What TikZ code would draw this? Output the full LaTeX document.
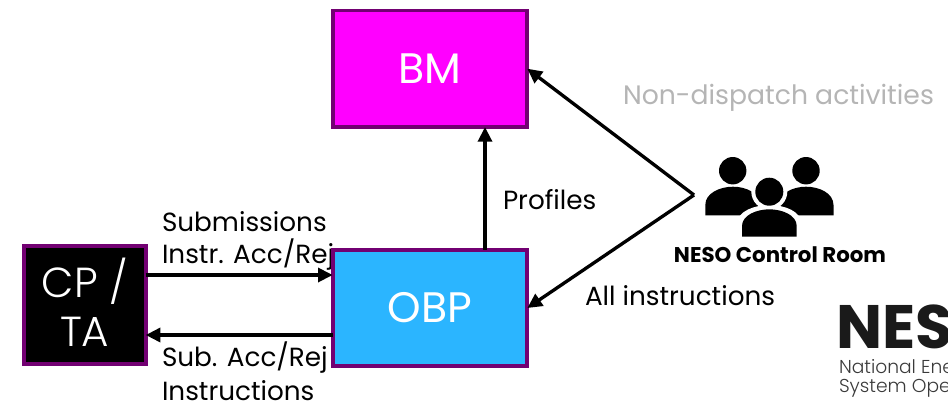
\documentclass[tikz,border=0pt]{standalone}
\usepackage{fontspec}
\setmainfont{Poppins}
\newfontfamily\lightf{Poppins Light}
\usetikzlibrary{arrows.meta}
\definecolor{edge}{HTML}{720072}
\definecolor{bmfill}{HTML}{FF00FF}
\definecolor{obpfill}{HTML}{2BB5FF}
\definecolor{muted}{HTML}{B5B5B5}
\definecolor{logotext}{HTML}{3A3A3A}
\tikzset{
 every node/.style={inner sep=0pt,outer sep=0pt},
 blockbox/.style={draw=edge,line width=2.8pt,text=white,align=center,font=\fontsize{32}{37}\selectfont},
 conn/.style={draw=black,line width=2.5pt,-{Stealth[length=11pt,width=10.5pt,inset=0pt]}},
 lab/.style={font=\fontsize{19.7}{25}\selectfont,anchor=west,align=left,text=black}
}
\begin{document}
\begin{tikzpicture}[x=0.75pt,y=-0.75pt]
\useasboundingbox (0,0) rectangle (948,401);
\node[lab] (l2) at (162,255) {Instr. Acc/Rej};
\node[blockbox,fill=bmfill,minimum width=146pt,minimum height=87.5pt] (bm) at (430,68.7) {BM};
\node[blockbox,fill=obpfill,minimum width=146pt,minimum height=87.5pt] (obp) at (430,308) {OBP};
\node[blockbox,fill=black,minimum width=91.5pt,minimum height=88pt] (cp) at (84.7,305) {};
\node[text=white,align=center,font=\lightf\fontsize{31.5}{37}\selectfont] (cptext) at (84.7,302) {CP /\\TA};
\coordinate (apex) at (694,195);
\draw[conn] (apex) -- (bm.east);
\draw[conn] (apex) -- (obp.east);
\draw[conn] (obp.north -| 485,0) -- (bm.south -| 485,0);
\draw[conn] (cp.east |- 0,275) -- (obp.west |- 0,275);
\draw[conn] (obp.west |- 0,335) -- (cp.east |- 0,335);
\node[lab] (l1) at (162,222) {Submissions};
\node[lab] (l3) at (162,358) {Sub. Acc/Rej};
\node[lab] (l4) at (162,390.5) {Instructions};
\node[lab] (l5) at (503,200) {Profiles};
\node[lab] (l6) at (585,296) {All instructions};
\node[lab,text=muted,font=\fontsize{20}{25}\selectfont] (l7) at (623,98) {Non-dispatch activities};
\node[anchor=center,font=\fontsize{16}{19}\selectfont\bfseries] (room) at (780,255) {NESO Control Room};
% people icon
\fill (732.7,170.7) circle[radius=13.7*0.75pt];
\fill (806,170.7) circle[radius=13.7*0.75pt];
\fill (705.3,215.3) -- (705.3,205) .. controls (705.3,193) and (720,186.7) .. (733,186.7) .. controls (746,186.7) and (760,193) .. (760,205) -- (760,215.3) -- cycle;
\fill (833.5,215.3) -- (833.5,205) .. controls (833.5,193) and (819,186.7) .. (806,186.7) .. controls (793,186.7) and (779,193) .. (779,205) -- (779,215.3) -- cycle;
\fill[white] (769.3,191.7) circle[radius=18*0.75pt];
\fill[white] (737,240) -- (737,224) .. controls (737,211) and (755,205) .. (769.3,205) .. controls (784,205) and (801.5,211) .. (801.5,224) -- (801.5,240) -- cycle;
\fill (769.3,191.7) circle[radius=14*0.75pt];
\fill (742,236.7) -- (742,226) .. controls (742,215) and (757,209.3) .. (769.3,209.3) .. controls (782,209.3) and (796.7,215) .. (796.7,226) -- (796.7,236.7) -- cycle;
% logo
\node[anchor=west,font=\fontsize{46}{46}\selectfont\bfseries,text=logotext!45!black] (logo) at (836,327) {NESO};
\node[anchor=west,font=\lightf\fontsize{14}{16}\selectfont,text=logotext] (logo2) at (839,369) {National Energy};
\node[anchor=west,font=\lightf\fontsize{14}{16}\selectfont,text=logotext] (logo3) at (839,388) {System Operator};
\end{tikzpicture}
\end{document}
